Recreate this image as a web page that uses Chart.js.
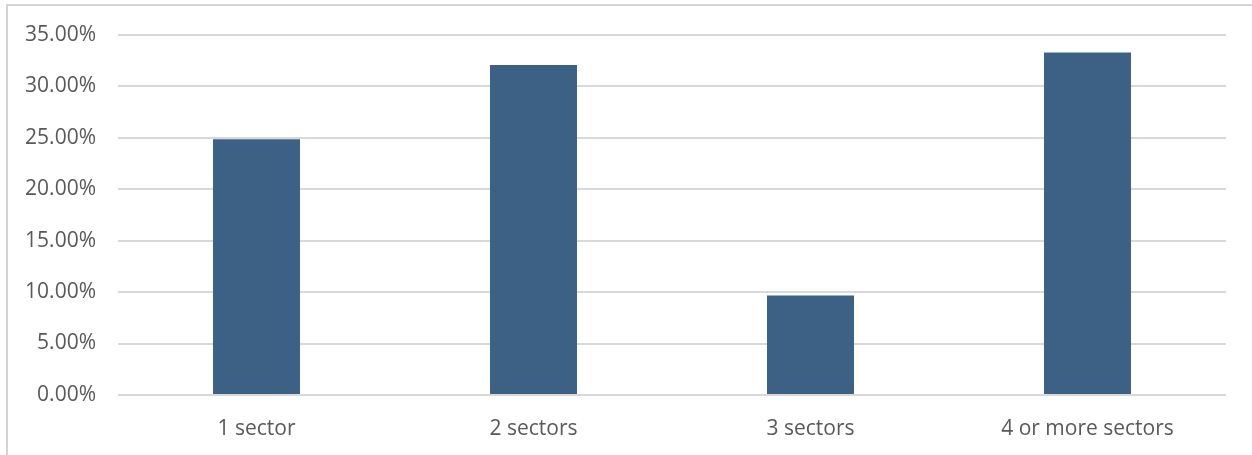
<!DOCTYPE html>
<html>
<head>
<meta charset="utf-8">
<script src="https://cdn.jsdelivr.net/npm/chart.js"></script>
<style>
  html, body { margin: 0; padding: 0; background: #fff; }
  .wrap { position: relative; width: 1252px; height: 455px; overflow: hidden; }
  .frame { position: absolute; left: 6px; top: 4px; right: -4px; bottom: -4px;
           border-left: 2px solid #d4d4d4; border-top: 2px solid #d4d4d4; pointer-events: none; }
  canvas { position: absolute; left: 0; top: 0; }
</style>
</head>
<body>
<div class="wrap">
  <canvas id="c" width="1252" height="455"></canvas>
  <div class="frame"></div>
</div>
<script>
// categories and shares (percent)
const categories = ['1 sector', '2 sectors', '3 sectors', '4 or more sectors'];
const shares = [24.84, 32.04, 9.66, 33.27];
const yTicks = [0, 5, 10, 15, 20, 25, 30, 35];

const FONT = '"Open Sans", "Noto Sans", sans-serif';
const TEXT = '#595959';

new Chart(document.getElementById('c'), {
  type: 'bar',
  data: {
    labels: categories,
    datasets: [{
      data: shares,
      backgroundColor: '#3d6185',
      borderWidth: 0,
      barPercentage: 1,
      categoryPercentage: 0.314
    }]
  },
  options: {
    responsive: false,
    animation: false,
    layout: {padding: {top: 33, right: 26, bottom: 0, left: 0}},
    plugins: {legend: {display: false}, tooltip: {enabled: false}},
    scales: {
      x: {
        grid: {display: false, drawTicks: false},
        border: {display: false},
        ticks: {color: TEXT, font: {family: FONT, size: 21}, padding: 21, maxRotation: 0},
        afterFit: s => { s.height = 60; }
      },
      y: {
        min: 0,
        max: 35,
        afterBuildTicks: s => { s.ticks = yTicks.map(v => ({value: v})); },
        grid: {color: '#d9d9d9', lineWidth: 2, drawTicks: false},
        border: {display: false},
        ticks: {
          color: TEXT,
          font: {family: FONT, size: 21},
          padding: 22,
          callback: v => v.toFixed(2) + '%'
        },
        afterFit: s => { s.width = 118; }
      }
    }
  }
});
</script>
</body>
</html>
